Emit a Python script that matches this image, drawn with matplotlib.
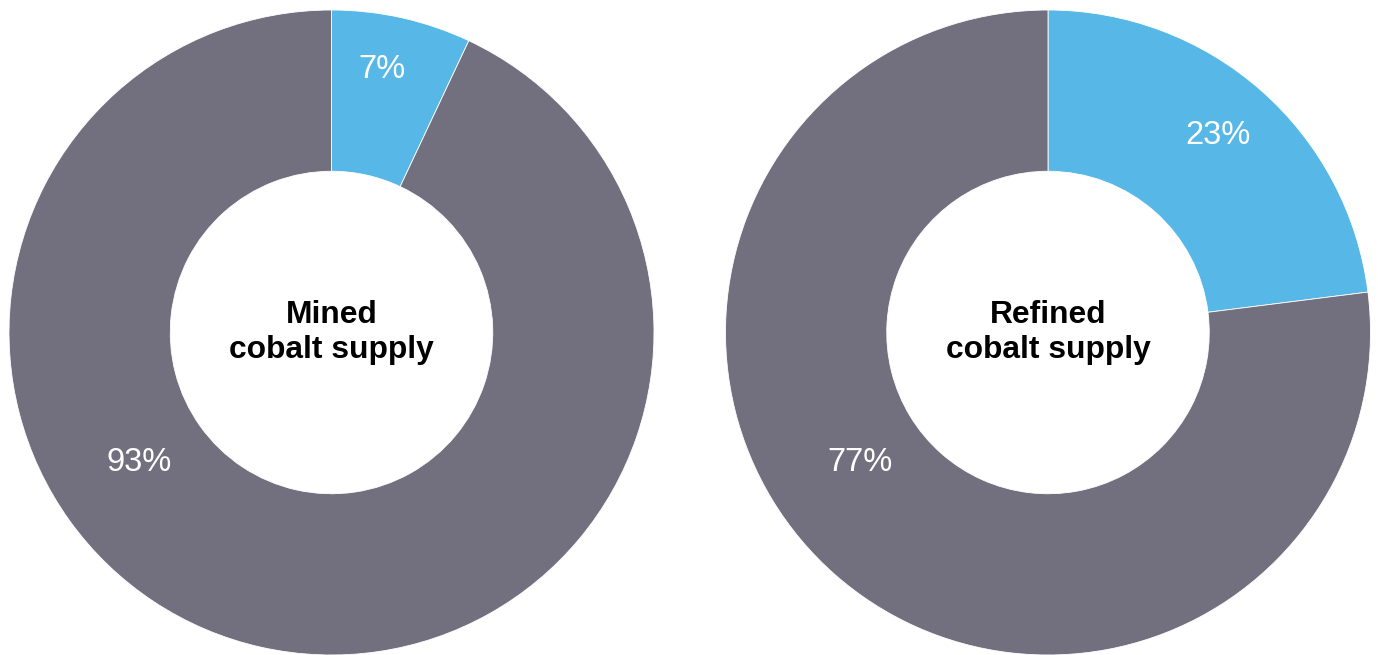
import matplotlib
matplotlib.use("Agg")
import matplotlib.pyplot as plt

# Cobalt supply shares (percent)
titles = ["Mined\ncobalt supply", "Refined\ncobalt supply"]
share_blue = [7, 23]
share_gray = [93, 77]

BLUE = "#57b7e7"
GRAY = "#72707f"

W, H = 1378, 655
fig = plt.figure(figsize=(W / 100, H / 100), dpi=100)
fig.patch.set_facecolor("white")

R_PX = 322.5
centers = [(331.5, 332.5), (1048.0, 332.5)]
# label offsets in units of the outer radius (x right, y up)
blue_pos = [(0.155, 0.816), (0.528, 0.612)]
gray_pos = [(-0.595, -0.404), (-0.583, -0.404)]

for i, (cx, cy) in enumerate(centers):
    left = (cx - R_PX) / W
    bottom = (H - cy - R_PX) / H
    ax = fig.add_axes([left, bottom, 2 * R_PX / W, 2 * R_PX / H])
    ax.pie([share_blue[i], share_gray[i]], colors=[BLUE, GRAY],
           startangle=90, counterclock=False, radius=1,
           wedgeprops=dict(width=0.5, edgecolor="white", linewidth=0.6))
    ax.set_xlim(-1, 1)
    ax.set_ylim(-1, 1)
    ax.set_aspect("equal")
    ax.axis("off")

    ax.text(0, 0.0, titles[i], ha="center", va="center",
            fontsize=22.9, fontweight="bold", family="Liberation Sans",
            color="black", linespacing=1.2)
    bx, by = blue_pos[i]
    ax.text(bx, by, f"{share_blue[i]}%", ha="center", va="center",
            fontsize=23.5, family="Liberation Sans", color="white")
    gx, gy = gray_pos[i]
    ax.text(gx, gy, f"{share_gray[i]}%", ha="center", va="center",
            fontsize=23.5, family="Liberation Sans", color="white")

fig.savefig("out.png", dpi=100, facecolor="white")
